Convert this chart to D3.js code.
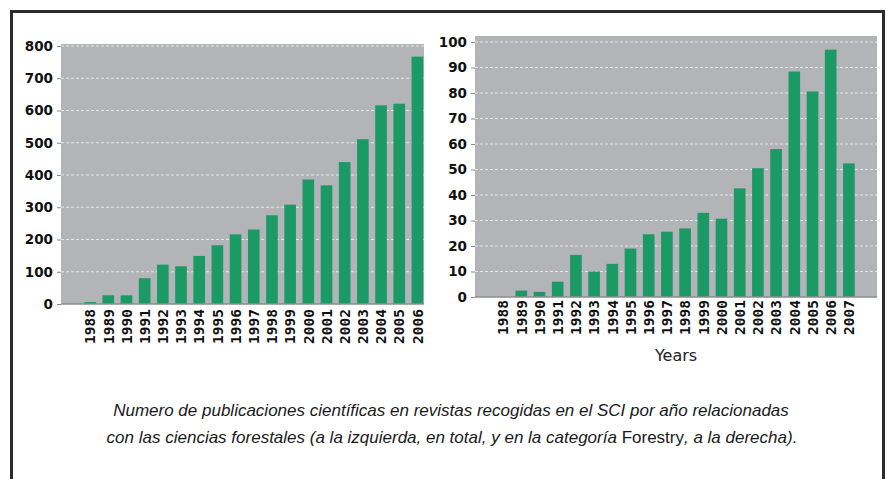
<!DOCTYPE html>
<html>
<head>
<meta charset="utf-8">
<script src="https://cdn.jsdelivr.net/npm/d3@7"></script>
<style>
  body { margin: 0; background: #fff; }
  svg { display: block; }
</style>
</head>
<body>
<div id="chart"></div>
<script>
const width = 890;
const height = 479;

// left chart: total publications per year
const yearsTotal = ["1988","1989","1990","1991","1992","1993","1994","1995","1996","1997",
  "1998","1999","2000","2001","2002","2003","2004","2005","2006"];
const valuesTotal = [6, 27, 27, 80, 122, 117, 149, 182, 216, 231,
  275, 308, 386, 368, 440, 511, 616, 621, 767];
const ticksTotal = [0, 100, 200, 300, 400, 500, 600, 700, 800];

// right chart: category Forestry
const yearsForestry = ["1988","1989","1990","1991","1992","1993","1994","1995","1996","1997",
  "1998","1999","2000","2001","2002","2003","2004","2005","2006","2007"];
const valuesForestry = [0, 2.5, 2, 6, 16.5, 10, 13, 19, 24.6, 25.6,
  26.9, 33, 30.7, 42.6, 50.5, 58, 88.4, 80.6, 97, 52.4];
const ticksForestry = [0, 10, 20, 30, 40, 50, 60, 70, 80, 90, 100];

const caption1 = "Numero de publicaciones científicas en revistas recogidas en el SCI por año relacionadas";
const caption2a = "con las ciencias forestales (a la izquierda, en total, y en la categoría ";
const caption2b = "Forestry";
const caption2c = ", a la derecha).";

const barColor = "#1b9a66";
const plotBg = "#b2b4b7";

const svg = d3.select("#chart")
  .append("svg")
  .attr("width", width)
  .attr("height", height);

// outer frame (bottom edge falls outside the picture)
svg.append("path")
  .attr("d", "M11.5,486 L11.5,11.5 L883.5,11.5 L883.5,486")
  .attr("fill", "none")
  .attr("stroke", "#2b2b2b")
  .attr("stroke-width", 3);

function drawChart(opts) {
  const x = d3.scaleBand()
    .domain(opts.years)
    .range(opts.bandRange)
    .paddingInner(0.36)
    .paddingOuter(0.18);

  const y = d3.scaleLinear()
    .domain([0, opts.max])
    .range(opts.yRange);

  const g = svg.append("g");

  // plot background
  g.append("rect")
    .attr("x", opts.plot[0])
    .attr("y", opts.plot[1])
    .attr("width", opts.plot[2] - opts.plot[0])
    .attr("height", y(0) - opts.plot[1])
    .attr("fill", plotBg);

  // grid
  g.selectAll(".grid")
    .data(opts.ticks.filter(d => d > 0))
    .join("line")
    .attr("x1", opts.plot[0])
    .attr("x2", opts.plot[2])
    .attr("y1", d => y(d))
    .attr("y2", d => y(d))
    .attr("stroke", "#e4e6e8")
    .attr("stroke-width", 1)
    .attr("stroke-dasharray", "3,2");

  // bars
  g.selectAll(".bar")
    .data(opts.values)
    .join("rect")
    .attr("x", (d, i) => x(opts.years[i]))
    .attr("y", d => y(d))
    .attr("width", x.bandwidth())
    .attr("height", d => y(0) - y(d))
    .attr("fill", barColor);

  // y axis
  const yAxis = d3.axisLeft(y)
    .tickValues(opts.ticks)
    .tickSize(4)
    .tickPadding(4);
  const ya = g.append("g")
    .attr("transform", `translate(${opts.plot[0]},0)`)
    .call(yAxis);
  ya.select(".domain").remove();
  ya.selectAll(".tick line").attr("stroke", "#888");
  ya.selectAll(".tick text")
    .attr("fill", "#111")
    .style("font-family", "'DejaVu Sans', sans-serif")
    .style("font-weight", "bold")
    .style("font-size", "13.5px");

  // x axis line at zero
  g.append("line")
    .attr("x1", opts.plot[0])
    .attr("x2", opts.plot[2])
    .attr("y1", y(0))
    .attr("y2", y(0))
    .attr("stroke", "#8c8c8c")
    .attr("stroke-width", 1.5);

  // x tick labels, rotated
  const xAxis = d3.axisBottom(x).tickSize(0).tickPadding(0);
  const xa = g.append("g")
    .attr("transform", `translate(0,${y(0)})`)
    .call(xAxis);
  xa.select(".domain").remove();
  xa.selectAll(".tick text")
    .attr("transform", "rotate(-90)")
    .attr("x", -opts.labelGap)
    .attr("y", 0)
    .attr("dy", "0.36em")
    .attr("text-anchor", "end")
    .attr("fill", "#111")
    .style("font-family", "'DejaVu Sans Mono', monospace")
    .style("font-weight", "bold")
    .style("font-size", "14.5px");

  return g;
}

drawChart({
  years: yearsTotal,
  values: valuesTotal,
  ticks: ticksTotal,
  max: 800,
  bandRange: [81, 426.5],
  yRange: [304, 46],
  plot: [61, 44, 424],
  labelGap: 5
});

const right = drawChart({
  years: yearsForestry,
  values: valuesForestry,
  ticks: ticksForestry,
  max: 100,
  bandRange: [494, 858],
  yRange: [297, 42],
  plot: [475, 36, 877],
  labelGap: 3
});

right.append("text")
  .attr("x", 676)
  .attr("y", 361)
  .attr("text-anchor", "middle")
  .attr("fill", "#222")
  .style("font-family", "'DejaVu Sans', sans-serif")
  .style("font-size", "16px")
  .text("Years");

// caption
const cap = svg.append("g")
  .style("font-family", "'Liberation Sans Narrow', 'Liberation Sans', sans-serif")
  .style("font-size", "17px")
  .attr("fill", "#1a1a1a");

cap.append("text")
  .attr("x", 451)
  .attr("y", 416)
  .attr("text-anchor", "middle")
  .style("font-style", "italic")
  .text(caption1);

const line2 = cap.append("text")
  .attr("x", 452)
  .attr("y", 443)
  .attr("text-anchor", "middle");
line2.append("tspan").style("font-style", "italic").text(caption2a);
line2.append("tspan").text(caption2b);
line2.append("tspan").style("font-style", "italic").text(caption2c);
</script>
</body>
</html>
